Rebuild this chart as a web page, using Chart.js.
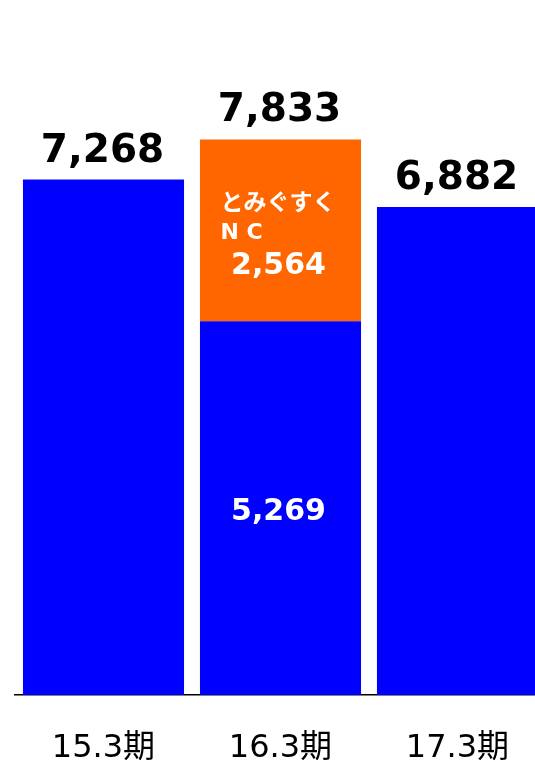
<!DOCTYPE html>
<html>
<head>
<meta charset="utf-8">
<script src="https://cdn.jsdelivr.net/npm/chart.js@4/dist/chart.umd.min.js"></script>
<style>
  html, body { margin: 0; padding: 0; background: #fff; overflow: hidden; }
  #wrap { width: 546px; height: 762px; position: relative; }
</style>
</head>
<body>
<div id="wrap"><canvas id="chart"></canvas></div>
<script>
const periods = ['15.3期', '16.3期', '17.3期'];
const baseValues = [7268, 5269, 6882];
const ncValues = [null, 2564, null];
const totals = [7268, 7833, 6882];
const ncLabel = ['とみぐすく', 'N C'];

const FONT = '"DejaVu Sans", "Noto Sans CJK JP", sans-serif';

// value labels drawn from bar elements
const labelPlugin = {
    id: 'barLabels',
    afterDatasetsDraw(chart) {
        const ctx = chart.ctx;
        const base = chart.getDatasetMeta(0).data;
        const nc = chart.getDatasetMeta(1).data;
        ctx.save();
        ctx.textAlign = 'center';
        ctx.textBaseline = 'alphabetic';
        // totals above the stack
        totals.forEach((t, i) => {
            const top = ncValues[i] ? nc[i] : base[i];
            ctx.fillStyle = '#000';
            ctx.font = 'bold 39px ' + FONT;
            ctx.fillText(t.toLocaleString('en-US'), top.x - 1, top.y - 18);
        });
        // inside labels
        ctx.fillStyle = '#fff';
        ctx.textBaseline = 'middle';
        const b = base[1];
        ctx.font = 'bold 30px ' + FONT;
        ctx.fillText(baseValues[1].toLocaleString('en-US'), b.x - 2, (b.y + b.base) / 2 + 4);
        const n = nc[1];
        ctx.font = 'bold 23px ' + FONT;
        ctx.textAlign = 'left';
        ctx.fillText(ncLabel[0], n.x - 60, n.y + 65);
        ctx.font = 'bold 22px ' + FONT;
        ctx.fillText(ncLabel[1], n.x - 60, n.y + 94);
        ctx.textAlign = 'center';
        ctx.font = 'bold 30px ' + FONT;
        ctx.fillText(ncValues[1].toLocaleString('en-US'), n.x - 2, n.y + 127);
        ctx.restore();
    }
};

new Chart(document.getElementById('chart'), {
    type: 'bar',
    data: {
        labels: periods,
        datasets: [
            { label: 'base', data: baseValues, backgroundColor: '#0000FF', barPercentage: 0.91, categoryPercentage: 1 },
            { label: 'NC', data: ncValues, backgroundColor: '#FF6600', barPercentage: 0.91, categoryPercentage: 1 }
        ]
    },
    options: {
        responsive: true,
        maintainAspectRatio: false,
        animation: false,
        layout: { padding: { left: 15, right: 0, top: 0, bottom: 0 } },
        plugins: { legend: { display: false }, tooltip: { enabled: false } },
        scales: {
            x: {
                stacked: true,
                grid: { display: false, drawTicks: false },
                border: { display: true, color: '#000', width: 1.5 },
                ticks: { color: '#000', font: { family: FONT, size: 32 }, padding: 34 },
                afterFit: (axis) => { axis.height = 67; }
            },
            y: {
                stacked: true,
                display: false,
                min: 0,
                max: 9800
            }
        }
    },
    plugins: [labelPlugin]
});
</script>
</body>
</html>
